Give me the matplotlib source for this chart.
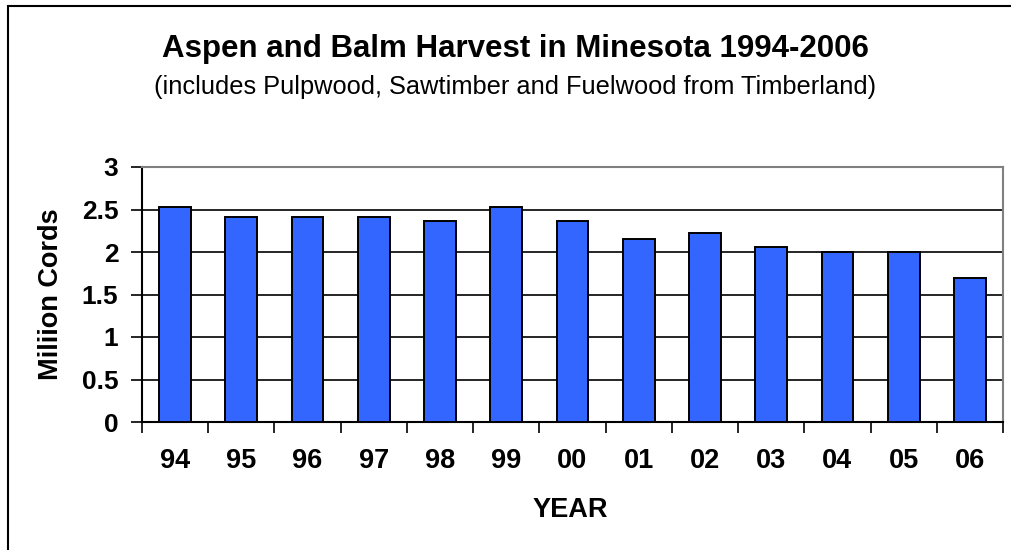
import matplotlib.pyplot as plt
import numpy as np
from matplotlib.patches import Rectangle

plt.rcParams['font.family'] = ['Liberation Sans', 'DejaVu Sans']

anos = ['94', '95', '96', '97', '98', '99', '00', '01', '02', '03', '04', '05', '06']
cordas = [2.53, 2.41, 2.41, 2.41, 2.37, 2.53, 2.37, 2.15, 2.22, 2.06, 2.0, 2.0, 1.70]
y_ticks = [0, 0.5, 1, 1.5, 2, 2.5, 3]
y_labels = ['0', '0.5', '1', '1.5', '2', '2.5', '3']

W, H = 1012, 550
fig = plt.figure(figsize=(W / 100, H / 100), dpi=100)
ax = fig.add_axes([142 / W, 1 - 422 / H, (1003 - 142) / W, (422 - 167) / H])

# moldura da figura (so topo e esquerda aparecem)
fig.patches.append(Rectangle((8 / W, -0.1), 1.2, 1 - 6 / H + 0.1, transform=fig.transFigure,
                             fill=False, edgecolor='black', linewidth=1.5))

x = np.arange(len(anos))
ax.bar(x, cordas, width=0.48, color='#3366FF', edgecolor='black', linewidth=1.4, zorder=3)

ax.set_xlim(-0.5, len(anos) - 0.5)
ax.set_ylim(0, 3)
ax.set_yticks(y_ticks)
ax.set_yticklabels(y_labels, fontsize=19, fontweight='bold')
for g in y_ticks[1:-1]:
    ax.axhline(g, color='black', linewidth=1.2, zorder=1)

ax.set_xticks(x)
ax.set_xticklabels(anos, fontsize=19.5, fontweight='bold')
ax.tick_params(axis='x', length=0, pad=19)
ax.set_xticks(np.arange(-0.5, len(anos)), minor=True)
ax.tick_params(axis='x', which='minor', length=8, width=1.2, direction='out')
ax.tick_params(axis='y', length=8, width=1.2, direction='out', pad=9)

for s in ['top', 'right']:
    ax.spines[s].set_color('#808080')
    ax.spines[s].set_linewidth(1.5)
for s in ['left', 'bottom']:
    ax.spines[s].set_color('black')
    ax.spines[s].set_linewidth(1.5)

ax.set_ylabel('Miliion Cords', fontsize=19.5, fontweight='bold')
ax.yaxis.set_label_coords(51 / W, 1 - 294 / H, transform=fig.transFigure)
ax.yaxis.label.set_va('center')
ax.set_xlabel('YEAR', fontsize=19.5, fontweight='bold')
ax.xaxis.set_label_coords(570 / W, 1 - 510 / H, transform=fig.transFigure)
ax.xaxis.label.set_va('center')

fig.text(515 / W, 1 - 57 / H, 'Aspen and Balm Harvest in Minesota 1994-2006',
         ha='center', va='baseline', fontsize=22.5, fontweight='bold')
fig.text(515 / W, 1 - 94 / H, '(includes Pulpwood, Sawtimber and Fuelwood from Timberland)',
         ha='center', va='baseline', fontsize=18.3)

fig.savefig('out.png', dpi=100)
